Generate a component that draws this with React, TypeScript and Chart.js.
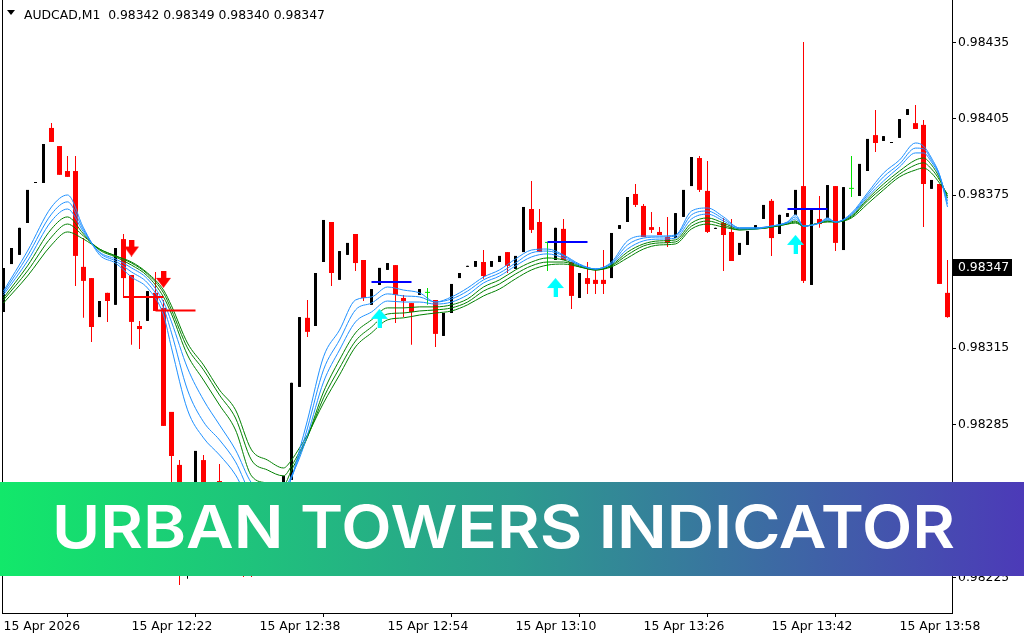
import React, { useEffect, useRef } from "react";
import { Chart, registerables } from "chart.js";
Chart.register(...registerables);

// ---- data ----
const OPEN = [0.983292,0.983480,0.983516,0.983641,0.983798,0.983798,0.984014,0.983943,0.983845,0.983845,0.983469,0.983425,0.983272,0.983367,0.983320,0.983578,0.983437,0.983237,0.983257,0.983367,0.983308,0.982900,0.982692,0.982319,0.982437,0.982711,0.982555,0.982629,0.982476,0.982319,0.982417,0.982378,0.982288,0.982398,0.982339,0.982476,0.982633,0.982998,0.983269,0.983237,0.983488,0.983645,0.983418,0.983516,0.983598,0.983496,0.983320,0.983398,0.983457,0.983476,0.983347,0.983327,0.983359,0.983367,0.983339,0.983198,0.983288,0.983425,0.983469,0.983469,0.983488,0.983469,0.983488,0.983527,0.983461,0.983527,0.983696,0.983645,0.983563,0.983496,0.983618,0.983488,0.983347,0.983425,0.983418,0.983418,0.983425,0.983618,0.983645,0.983755,0.983708,0.983625,0.983606,0.983586,0.983582,0.983665,0.983786,0.983896,0.983767,0.983618,0.983641,0.983606,0.983516,0.983555,0.983618,0.983657,0.983728,0.983598,0.983665,0.983673,0.983786,0.983398,0.983657,0.983661,0.983786,0.983535,0.983775,0.983747,0.983845,0.983986,0.983963,0.983955,0.983975,0.984065,0.984033,0.984026,0.983775,0.983794,0.983367];
const HIGH = [0.983465,0.983543,0.983622,0.983771,0.983802,0.983951,0.984033,0.983943,0.983904,0.983904,0.983582,0.983425,0.983335,0.983367,0.983543,0.983598,0.983437,0.983257,0.983374,0.983449,0.983339,0.982900,0.982711,0.982574,0.982747,0.982731,0.982574,0.982696,0.982515,0.982456,0.982437,0.982398,0.982417,0.982437,0.982496,0.982649,0.983014,0.983272,0.983339,0.983445,0.983653,0.983645,0.983531,0.983563,0.983598,0.983496,0.983382,0.983465,0.983484,0.983476,0.983359,0.983327,0.983382,0.983386,0.983339,0.983288,0.983402,0.983445,0.983473,0.983492,0.983535,0.983492,0.983512,0.983527,0.983512,0.983704,0.983806,0.983696,0.983567,0.983622,0.983657,0.983488,0.983445,0.983488,0.983457,0.983535,0.983602,0.983633,0.983743,0.983794,0.983716,0.983684,0.983625,0.983665,0.983680,0.983771,0.983900,0.983904,0.983884,0.983622,0.983661,0.983657,0.983563,0.983610,0.983633,0.983712,0.983735,0.983673,0.983680,0.983771,0.984351,0.983692,0.983747,0.983790,0.983786,0.983782,0.983904,0.983873,0.983971,0.984084,0.983982,0.983959,0.984049,0.984088,0.984104,0.984045,0.983810,0.983794,0.983496];
const LOW = [0.983292,0.983480,0.983516,0.983641,0.983798,0.983798,0.983959,0.983830,0.983822,0.983394,0.983269,0.983174,0.983272,0.983253,0.983320,0.983347,0.983163,0.983147,0.983257,0.983296,0.982845,0.982594,0.982221,0.982245,0.982417,0.982358,0.982378,0.982398,0.982319,0.982296,0.982252,0.982252,0.982272,0.982319,0.982319,0.982456,0.982633,0.982998,0.983194,0.983237,0.983488,0.983394,0.983418,0.983516,0.983453,0.983335,0.983320,0.983398,0.983457,0.983249,0.983272,0.983163,0.983359,0.983320,0.983155,0.983198,0.983288,0.983425,0.983469,0.983469,0.983422,0.983469,0.983488,0.983445,0.983461,0.983527,0.983602,0.983527,0.983453,0.983496,0.983496,0.983304,0.983347,0.983363,0.983363,0.983363,0.983425,0.983618,0.983645,0.983704,0.983586,0.983602,0.983594,0.983547,0.983582,0.983665,0.983786,0.983763,0.983602,0.983618,0.983453,0.983492,0.983516,0.983555,0.983618,0.983657,0.983512,0.983598,0.983665,0.983673,0.983406,0.983398,0.983622,0.983661,0.983531,0.983535,0.983743,0.983747,0.983845,0.983920,0.983963,0.983955,0.983975,0.984065,0.984010,0.983625,0.983775,0.983402,0.983269];
const CLOSE = [0.983465,0.983543,0.983622,0.983771,0.983802,0.983951,0.983959,0.983830,0.983822,0.983512,0.983414,0.983233,0.983335,0.983335,0.983543,0.983425,0.983253,0.983225,0.983374,0.983296,0.982845,0.982727,0.982476,0.982555,0.982747,0.982398,0.982437,0.982437,0.982339,0.982437,0.982319,0.982300,0.982398,0.982358,0.982476,0.982649,0.983014,0.983272,0.983214,0.983445,0.983653,0.983445,0.983531,0.983563,0.983484,0.983347,0.983382,0.983465,0.983484,0.983359,0.983335,0.983292,0.983382,0.983367,0.983206,0.983288,0.983402,0.983445,0.983473,0.983492,0.983433,0.983492,0.983512,0.983473,0.983512,0.983704,0.983614,0.983527,0.983563,0.983622,0.983496,0.983355,0.983445,0.983402,0.983402,0.983402,0.983602,0.983633,0.983743,0.983712,0.983586,0.983614,0.983594,0.983563,0.983680,0.983771,0.983900,0.983771,0.983606,0.983622,0.983594,0.983492,0.983563,0.983610,0.983633,0.983712,0.983582,0.983673,0.983680,0.983771,0.983414,0.983692,0.983637,0.983790,0.983563,0.983782,0.983775,0.983873,0.983971,0.983955,0.983982,0.983959,0.984049,0.984088,0.984010,0.983794,0.983810,0.983402,0.983272];

const MA_IDX = [0,3,6,8,10,12,14,16,18,20,21,23,25,27,29,31,33,35,36,37,38,40,42,44,46,48,50,52,54,56,58,60,62,64,66,68,70,72,74,76,78,80,82,84,86,88,90,92,94,96,98,99,100,102,103,104,106,108,110,112,114,115,116,117,118];
const MA_B1 = [0.983374,0.983531,0.983704,0.983751,0.983622,0.983516,0.983484,0.983429,0.983386,0.983280,0.983151,0.982908,0.982798,0.982731,0.982653,0.982535,0.982507,0.982574,0.982641,0.982751,0.982868,0.983116,0.983221,0.983339,0.983351,0.983390,0.983378,0.983367,0.983331,0.983351,0.983386,0.983429,0.983457,0.983500,0.983535,0.983539,0.983516,0.983480,0.983461,0.983488,0.983571,0.983590,0.983590,0.983594,0.983688,0.983700,0.983665,0.983622,0.983622,0.983629,0.983645,0.983673,0.983629,0.983641,0.983661,0.983645,0.983680,0.983759,0.983837,0.983888,0.983955,0.983943,0.983896,0.983830,0.983704];
const MA_B2 = [0.983367,0.983512,0.983676,0.983724,0.983614,0.983524,0.983492,0.983449,0.983406,0.983308,0.983210,0.982986,0.982861,0.982790,0.982704,0.982574,0.982535,0.982574,0.982641,0.982731,0.982837,0.983065,0.983182,0.983300,0.983327,0.983363,0.983355,0.983351,0.983331,0.983343,0.983374,0.983418,0.983445,0.983484,0.983524,0.983531,0.983512,0.983476,0.983461,0.983484,0.983555,0.983582,0.983586,0.983590,0.983673,0.983688,0.983657,0.983622,0.983622,0.983629,0.983645,0.983665,0.983629,0.983641,0.983657,0.983645,0.983676,0.983751,0.983822,0.983873,0.983935,0.983932,0.983888,0.983830,0.983716];
const MA_B3 = [0.983359,0.983492,0.983649,0.983696,0.983606,0.983527,0.983500,0.983465,0.983422,0.983331,0.983253,0.983072,0.982947,0.982849,0.982751,0.982621,0.982574,0.982594,0.982649,0.982719,0.982810,0.983017,0.983143,0.983253,0.983292,0.983335,0.983331,0.983331,0.983323,0.983331,0.983359,0.983406,0.983433,0.983473,0.983508,0.983520,0.983504,0.983476,0.983461,0.983480,0.983539,0.983571,0.983578,0.983582,0.983657,0.983676,0.983649,0.983618,0.983618,0.983629,0.983641,0.983657,0.983629,0.983641,0.983653,0.983645,0.983673,0.983743,0.983806,0.983861,0.983916,0.983916,0.983880,0.983826,0.983728];
const MA_G1 = [0.983347,0.983473,0.983618,0.983665,0.983598,0.983535,0.983508,0.983476,0.983433,0.983351,0.983284,0.983123,0.983025,0.982927,0.982829,0.982649,0.982621,0.982613,0.982672,0.982731,0.982802,0.982978,0.983104,0.983210,0.983261,0.983308,0.983308,0.983312,0.983312,0.983320,0.983343,0.983390,0.983418,0.983457,0.983488,0.983504,0.983496,0.983473,0.983457,0.983476,0.983527,0.983559,0.983571,0.983575,0.983641,0.983661,0.983641,0.983618,0.983618,0.983625,0.983641,0.983649,0.983629,0.983641,0.983649,0.983645,0.983669,0.983735,0.983794,0.983845,0.983888,0.983896,0.983869,0.983818,0.983739];
const MA_G2 = [0.983339,0.983453,0.983586,0.983637,0.983590,0.983539,0.983512,0.983484,0.983441,0.983367,0.983300,0.983151,0.983065,0.982966,0.982876,0.982711,0.982672,0.982649,0.982688,0.982743,0.982802,0.982955,0.983072,0.983178,0.983233,0.983284,0.983288,0.983296,0.983300,0.983308,0.983331,0.983374,0.983402,0.983441,0.983473,0.983488,0.983488,0.983469,0.983457,0.983473,0.983516,0.983551,0.983563,0.983567,0.983629,0.983649,0.983633,0.983614,0.983618,0.983625,0.983637,0.983645,0.983629,0.983641,0.983649,0.983645,0.983665,0.983728,0.983782,0.983833,0.983869,0.983877,0.983853,0.983810,0.983747];
const MA_G3 = [0.983327,0.983433,0.983555,0.983606,0.983578,0.983539,0.983512,0.983488,0.983445,0.983378,0.983316,0.983170,0.983084,0.982986,0.982908,0.982751,0.982711,0.982680,0.982711,0.982759,0.982810,0.982935,0.983045,0.983155,0.983210,0.983261,0.983269,0.983280,0.983288,0.983296,0.983320,0.983355,0.983382,0.983422,0.983457,0.983476,0.983480,0.983469,0.983457,0.983469,0.983504,0.983539,0.983555,0.983559,0.983618,0.983637,0.983625,0.983614,0.983618,0.983625,0.983637,0.983641,0.983629,0.983641,0.983645,0.983645,0.983661,0.983716,0.983771,0.983822,0.983849,0.983857,0.983837,0.983798,0.983755];

const RED_TOWER_START = [15, 19];
const RED_TOWER_END = [20, 24];
const RED_TOWER_PRICE = [0.983351, 0.983298];
const BLUE_TOWER_START = [46, 68, 98];
const BLUE_TOWER_END = [51, 73, 103];
const BLUE_TOWER_PRICE = [0.983410, 0.983567, 0.983696];

const SELL_IDX = [16, 20];
const SELL_PRICE = [0.983543, 0.983420];
const BUY_IDX = [47, 69, 99];
const BUY_PRICE = [0.983267, 0.983388, 0.983557];

const X_TICKS = [0, 16, 32, 48, 64, 80, 96, 112];
const X_LABELS = ["15 Apr 2026", "15 Apr 12:22", "15 Apr 12:38", "15 Apr 12:54", "15 Apr 13:10", "15 Apr 13:26", "15 Apr 13:42", "15 Apr 13:58"];
const Y_TICKS = [0.98225, 0.98255, 0.98285, 0.98315, 0.98345, 0.98375, 0.98405, 0.98435];

const TITLE = "AUDCAD,M1  0.98342 0.98349 0.98340 0.98347";
const LAST_PRICE = 0.98347;
const BANNER = "URBAN TOWERS INDICATOR";

const FONT = "DejaVu Sans";

function makeArrow(dir: "up" | "down", color: string, light: string) {
  const c = document.createElement("canvas");
  const w = dir === "up" ? 17 : 15;
  const h = dir === "up" ? 19 : 17;
  c.width = w; c.height = h;
  const g = c.getContext("2d")!;
  g.fillStyle = color;
  if (dir === "down") {
    g.fillRect(5, 0, 5, 8);
    g.beginPath(); g.moveTo(0, 7); g.lineTo(w, 7); g.lineTo(w / 2, h); g.closePath(); g.fill();
    g.fillStyle = light;
    g.fillRect(10, 0, 1, 7);
  } else {
    g.beginPath(); g.moveTo(w / 2, 0); g.lineTo(w, 10); g.lineTo(0, 10); g.closePath(); g.fill();
    g.fillRect(6, 9, 5, h - 9);
    g.fillStyle = light;
    g.fillRect(6, 10, 1, h - 10);
  }
  return c;
}

export default function App() {
  const ref = useRef<HTMLCanvasElement>(null);
  useEffect(() => {
    if (!ref.current) return;
    const n = OPEN.length;
    const redB: any[] = [], blackB: any[] = [], dojiB: any[] = [];
    const redW: any[] = [], blackW: any[] = [], dojiW: any[] = [];
    for (let i = 0; i < n; i++) {
      const o = OPEN[i], c = CLOSE[i];
      const wick = { x: i, y: [LOW[i], HIGH[i]] };
      const body = { x: i, y: [Math.min(o, c), Math.max(o, c)] };
      if (c > o) { blackB.push(body); blackW.push(wick); }
      else if (c < o) { redB.push(body); redW.push(wick); }
      else { dojiB.push(body); dojiW.push(wick); }
    }
    const bar = (data: any[], color: string, thick: number, order: number) => ({
      type: "bar", data, backgroundColor: color, barThickness: thick, grouped: false,
      inflateAmount: 0, borderWidth: 0, minBarLength: 1, order,
    });
    const ma = (vals: number[], color: string) => ({
      type: "line", data: MA_IDX.map((x, k) => ({ x, y: vals[k] })), borderColor: color,
      borderWidth: 1, pointRadius: 0, cubicInterpolationMode: "monotone", order: 5, fill: false,
    });
    const tower = (s: number, e: number, p: number, color: string, w: number) => ({
      type: "line", data: [{ x: s, y: p }, { x: e, y: p }], borderColor: color, borderWidth: w,
      pointRadius: 0, order: 3, fill: false,
    });
    const sellImg = makeArrow("down", "#ff0000", "#ff9a9a");
    const buyImg = makeArrow("up", "#00ffff", "#b0ffff");

    const overlay = {
      id: "overlay",
      afterDraw(chart: any) {
        const ctx = chart.ctx as CanvasRenderingContext2D;
        const { left, top, bottom } = chart.chartArea;
        ctx.save();
        ctx.fillStyle = "#000";
        ctx.fillRect(Math.floor(left) - 1, top, 1, bottom - top + 1);
        // title
        ctx.beginPath(); ctx.moveTo(7, 10); ctx.lineTo(15, 10); ctx.lineTo(11, 15); ctx.closePath(); ctx.fill();
        ctx.font = `12.4px "${FONT}"`;
        ctx.textBaseline = "alphabetic";
        ctx.textAlign = "left";
        ctx.fillText(TITLE, 24, 18.5);
        // current price box
        const py = chart.scales.y.getPixelForValue(LAST_PRICE);
        ctx.fillStyle = "#000";
        ctx.fillRect(953, Math.round(py) - 8, 59, 17);
        ctx.fillStyle = "#fff";
        ctx.textBaseline = "middle";
        ctx.fillText(LAST_PRICE.toFixed(5), 958, Math.round(py) + 0.5);
        // banner
        const g = ctx.createLinearGradient(0, 0, 1024, 0);
        g.addColorStop(0, "#12e86a");
        g.addColorStop(0.5, "#2c9c8e");
        g.addColorStop(1, "#4c3ab8");
        ctx.fillStyle = g;
        ctx.fillRect(0, 482, 1024, 94);
        ctx.font = '600 59px "Inter"';
        ctx.textBaseline = "alphabetic";
        const w = ctx.measureText(BANNER).width;
        ctx.translate(52, 548);
        ctx.scale(903 / w, 1);
        ctx.fillStyle = "#ffffff";
        ctx.fillText(BANNER, 0, 0);
        ctx.restore();
      },
    };

    const tickFont = { family: FONT, size: 12.4 };
    const chart = new Chart(ref.current, {
      type: "bar",
      data: {
        datasets: [
          bar(redW, "#ff0000", 1, 20),
          bar(blackW, "#000000", 1, 20),
          bar(dojiW, "#00e000", 1, 20),
          bar(redB, "#ff0000", 5, 19),
          bar(blackB, "#000000", 3, 19),
          bar(dojiB, "#00e000", 5, 19),
          ma(MA_B1, "#1e90ff"),
          ma(MA_B2, "#1e90ff"),
          ma(MA_B3, "#1e90ff"),
          ma(MA_G1, "#008000"),
          ma(MA_G2, "#008000"),
          ma(MA_G3, "#008000"),
          ...RED_TOWER_START.map((s, k) => tower(s, RED_TOWER_END[k], RED_TOWER_PRICE[k], "#ff0000", 2)),
          ...BLUE_TOWER_START.map((s, k) => tower(s, BLUE_TOWER_END[k], BLUE_TOWER_PRICE[k], "#0000ff", 2)),
          {
            type: "scatter", data: SELL_IDX.map((x, k) => ({ x, y: SELL_PRICE[k] })),
            pointStyle: sellImg, pointRadius: 5, order: 1,
          },
          {
            type: "scatter", data: BUY_IDX.map((x, k) => ({ x, y: BUY_PRICE[k] })),
            pointStyle: buyImg, pointRadius: 5, order: 1,
          },
        ] as any,
      },
      options: {
        responsive: false,
        maintainAspectRatio: false,
        animation: false,
        events: [],
        layout: { autoPadding: false, padding: { left: 3, right: 0, top: 0, bottom: 0 } },
        plugins: { legend: { display: false }, tooltip: { enabled: false }, title: { display: false } },
        scales: {
          x: {
            type: "linear", min: -0.0625, max: 118.5625, offset: false, position: "bottom",
            afterBuildTicks: (s: any) => { s.ticks = X_TICKS.map((v) => ({ value: v })); },
            afterFit: (s: any) => { s.height = 27; s.paddingLeft = 0; s.paddingRight = 0; s.paddingTop = 0; s.paddingBottom = 0; },
            grid: { drawOnChartArea: false, tickLength: 4, color: "#000" },
            border: { display: true, color: "#000" },
            ticks: {
              autoSkip: false, maxRotation: 0, minRotation: 0, align: "start", padding: 2,
              color: "#000", font: tickFont,
              callback: (_v: any, i: number) => X_LABELS[i],
            },
          },
          y: {
            type: "linear", position: "right", min: 0.982111, max: 0.984516,
            afterBuildTicks: (s: any) => { s.ticks = Y_TICKS.map((v) => ({ value: v })); },
            afterFit: (s: any) => { s.width = 72; s.paddingTop = 0; s.paddingBottom = 0; s.paddingLeft = 0; s.paddingRight = 0; },
            grid: { drawOnChartArea: false, tickLength: 4, color: "#000" },
            border: { display: true, color: "#000" },
            ticks: {
              padding: 2, color: "#000", font: tickFont,
              callback: (v: any) => Number(v).toFixed(5),
            },
          },
        },
      } as any,
      plugins: [overlay],
    });
    return () => chart.destroy();
  }, []);

  return (
    <div style={{ position: "fixed", left: 0, top: 0, width: 1024, height: 640, background: "#fff" }}>
      <canvas ref={ref} width={1024} height={640} style={{ width: 1024, height: 640, display: "block" }} />
    </div>
  );
}
